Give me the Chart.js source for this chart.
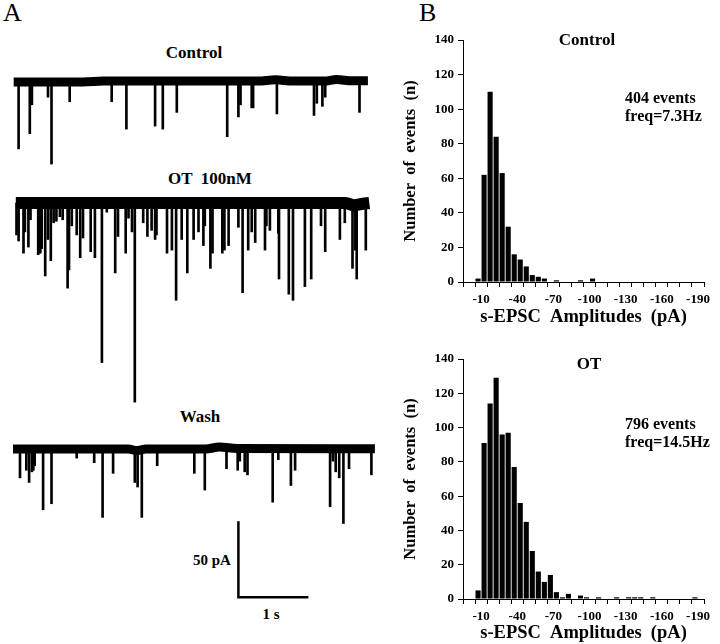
<!DOCTYPE html>
<html>
<head>
<meta charset="utf-8">
<script src="https://cdn.jsdelivr.net/npm/chart.js@4/dist/chart.umd.min.js"></script>
<style>
  html, body { margin: 0; padding: 0; background: #fff; }
  #fig { position: relative; width: 720px; height: 644px; overflow: hidden; background: #fff; }
  canvas { position: absolute; }
  .lbl { position: absolute; transform: translate(-50%, -50%); white-space: pre;
         font: bold 17px 'Liberation Serif', 'Times New Roman', serif; color: #000; }
  .txt { position: absolute; white-space: pre; line-height: 15px;
         font: bold 16px 'Liberation Serif', 'Times New Roman', serif; color: #000; }
  .panel { position: absolute; font: 26px 'Liberation Serif', 'Times New Roman', serif; color: #000; }
</style>
</head>
<body>
<div id="fig">
  <div class="panel" style="left:3px;top:-2px">A</div>
  <div class="panel" style="left:419px;top:-2px">B</div>

  <div class="lbl" style="left:194px;top:53px">Control</div>
  <div class="lbl" style="left:210px;top:179px">OT  100nM</div>
  <div class="lbl" style="left:200px;top:417px">Wash</div>
  <div class="lbl" style="left:212px;top:560px;font-size:15px">50 pA</div>
  <div class="lbl" style="left:271px;top:614px;font-size:15px">1 s</div>

  <canvas id="trControl" width="364" height="100" style="left:13px;top:70px"></canvas>
  <canvas id="trOT" width="364" height="215" style="left:13px;top:190px"></canvas>
  <canvas id="trWash" width="364" height="175" style="left:13px;top:435px"></canvas>

  <canvas id="hControl" width="340" height="330" style="left:380px;top:0px"></canvas>
  <canvas id="hOT" width="340" height="324" style="left:380px;top:320px"></canvas>

  <div class="lbl" style="left:587px;top:40px">Control</div>
  <div class="lbl" style="left:589px;top:364px">OT</div>
  <div class="txt" style="left:625px;top:89px">404 events
freq=7.3Hz</div>
  <div class="txt" style="left:625px;top:415px">796 events
freq=14.5Hz</div>
</div>

<script>
// ---- panel A: s-EPSC traces, events as [time (s), amplitude (pA)] ----
const ctrlEvents = [
  [0.08, 44], [0.24, 34], [0.27, 15], [0.50, 10], [0.55, 54], [0.81, 13], [1.41, 13],
  [1.62, 31], [2.03, 29], [2.14, 31], [2.34, 20], [3.06, 36], [3.22, 23], [3.25, 15],
  [3.41, 17], [3.43, 17], [3.77, 21], [4.30, 22], [4.34, 14], [4.42, 16], [4.46, 10], [4.95, 20]
];
const otEvents = [
  [0.05, 21], [0.08, 25], [0.15, 33], [0.17, 19], [0.22, 29], [0.25, 11], [0.36, 34], [0.39, 33],
  [0.41, 30], [0.46, 48], [0.50, 24], [0.54, 38], [0.58, 13], [0.62, 12], [0.67, 9], [0.71, 11],
  [0.78, 56], [0.80, 44], [0.84, 15], [0.91, 21], [0.96, 36], [1.00, 23], [1.11, 32], [1.17, 36],
  [1.27, 105], [1.34, 6], [1.46, 46], [1.50, 22], [1.61, 33], [1.65, 10], [1.70, 19], [1.74, 131],
  [1.86, 13], [1.92, 22], [1.98, 18], [2.03, 24], [2.05, 21], [2.20, 33], [2.27, 31], [2.33, 64],
  [2.41, 24], [2.49, 46], [2.58, 24], [2.65, 19], [2.72, 28], [2.74, 15], [2.82, 43], [2.85, 33],
  [2.99, 33], [3.02, 31], [3.08, 28], [3.22, 16], [3.28, 59], [3.36, 31], [3.41, 19], [3.46, 26],
  [3.60, 31], [3.62, 15], [3.67, 18], [3.79, 20], [3.80, 50], [3.94, 60], [4.00, 64], [4.17, 55],
  [4.26, 50], [4.40, 15], [4.46, 32], [4.67, 24], [4.74, 13], [4.85, 43], [4.89, 31], [4.91, 50],
  [5.04, 31]
];
const washEvents = [
  [0.10, 19], [0.19, 14], [0.23, 22], [0.27, 15], [0.29, 14], [0.31, 11], [0.43, 40], [0.55, 36],
  [0.91, 6], [1.16, 9], [1.28, 45], [1.43, 16], [1.74, 22], [1.78, 25], [1.84, 45], [2.06, 11],
  [2.59, 16], [2.74, 27], [3.05, 13], [3.21, 14], [3.24, 8], [3.31, 15], [3.35, 17], [3.71, 35],
  [3.79, 7], [3.97, 24], [4.03, 14], [4.53, 38], [4.57, 8], [4.61, 15], [4.66, 19], [4.72, 49],
  [4.80, 13], [5.12, 17]
];
// baseline drift, [time (s), offset (pA)]
const ctrlBase = [[0.01, 0], [1.0, 0], [1.3, 0.6], [3.5, 0.6], [3.75, 1.4], [4.0, 0.6], [4.45, 0.6], [4.62, 1.6], [4.85, 0.8], [5.07, 0.8]];
const otBase = [[0.04, 0], [4.75, 0], [4.87, -1.5], [5.0, -0.5], [5.09, 0]];
const washBase = [[0, 0], [1.65, 0], [1.76, -1], [1.9, 0], [2.75, 0], [2.95, 1.3], [3.2, 0.4], [5.17, 0.2]];
// scale bar: 50 pA by 1 s
const scaleBar = [[3.22, -47.5], [3.22, -97.5], [4.22, -97.5]];

// ---- panel B: amplitude histograms, 5 pA bins ----
const binLabels = ['0','-5','-10','-15','-20','-25','-30','-35','-40','-45','-50','-55','-60','-65','-70','-75','-80','-85','-90','-95',
  '-100','-105','-110','-115','-120','-125','-130','-135','-140','-145','-150','-155','-160','-165','-170','-175','-180','-185','-190','-195'];
const axisLabels = ['0','-10','-20','-30','-40','-50','-60','-70','-80','-90','-100','-110','-120','-130','-140','-150','-160','-170','-180','-190'];
const shownLabels = ['-10','-40','-70','-100','-130','-160','-190'];
const ctrlCounts = [0,0,2,62,110,84,63,32,16,13,9,4,3,2,0,1,0,0,0,1,0,2,0,0,0,0,0,0,0,0,0,0,0,0,0,0,0,0,0,0];
const otCounts = [0,0,5,91,114,129,96,97,77,56,45,28,16,10,14,4,1,3,0,2,1,0,1,0,0,1,0,1,1,1,0,1,0,0,0,0,0,0,1,0];

const SERIF = "'Liberation Serif', 'Times New Roman', serif";
const PX_PER_PA = 1.52;
const T_MAX = 5.2;
Chart.defaults.color = '#000';

function makeTrace(id, events, base, band, baseY, extra) {
  const cv = document.getElementById(id);
  const yMax = baseY / PX_PER_PA;
  const yMin = yMax - cv.height / PX_PER_PA;
  const datasets = [
    { type: 'line', data: base.map(p => ({ x: p[0], y: p[1] })), borderColor: '#000', borderWidth: band,
      pointRadius: 0, borderCapStyle: 'butt', cubicInterpolationMode: 'monotone', order: 2 },
    { data: events.map(e => ({ x: e[0], y: [0, -e[1]] })), backgroundColor: '#000', barThickness: 2, order: 1 }
  ];
  if (extra) datasets.push({ type: 'line', data: extra.map(p => ({ x: p[0], y: p[1] })), borderColor: '#000',
    borderWidth: 2.5, pointRadius: 0, borderJoinStyle: 'miter', borderCapStyle: 'butt', order: 0 });
  return new Chart(cv, {
    type: 'bar',
    data: { datasets },
    options: {
      responsive: false, animation: false, events: [],
      layout: { padding: 0 },
      plugins: { legend: { display: false }, tooltip: { enabled: false } },
      scales: {
        x: { type: 'linear', min: 0, max: T_MAX, offset: false, display: false },
        y: { min: yMin, max: yMax, display: false }
      }
    }
  });
}

function makeHist(id, counts, padTop, xHeight, titlePad) {
  return new Chart(document.getElementById(id), {
    type: 'bar',
    data: { labels: binLabels, datasets: [{ data: counts, backgroundColor: '#000', barPercentage: 0.85, categoryPercentage: 1 }] },
    options: {
      responsive: false, animation: false, events: [],
      layout: { padding: { top: padTop, right: 16, bottom: 0, left: 0 } },
      plugins: { legend: { display: false }, tooltip: { enabled: false } },
      scales: {
        x: { display: false },
        x2: {
          type: 'category', labels: axisLabels, position: 'bottom', offset: true,
          grid: { offset: true, drawOnChartArea: false, tickLength: 5, color: '#000' },
          border: { color: '#000', width: 1 },
          ticks: { autoSkip: false, maxRotation: 0, minRotation: 0, padding: 5,
                   font: { family: SERIF, size: 13, weight: 'bold' },
                   callback: function (v) { const l = this.getLabelForValue(v); return shownLabels.includes(l) ? l : ''; } },
          title: { display: true, text: 's-EPSC  Amplitudes  (pA)', font: { family: SERIF, size: 18.5, weight: 'bold' },
                   padding: { top: 0, bottom: titlePad } },
          afterFit: s => { s.height = xHeight; }
        },
        y: {
          min: 0, max: 140,
          grid: { drawOnChartArea: false, tickLength: 5, color: '#000' },
          border: { color: '#000', width: 1 },
          ticks: { stepSize: 20, padding: 4, font: { family: SERIF, size: 13, weight: 'bold' } },
          title: { display: true, text: 'Number  of  events  (n)', font: { family: SERIF, size: 16.5, weight: 'bold' },
                   padding: { top: 21, bottom: 0 } },
          afterFit: s => { s.width = 83; }
        }
      }
    }
  });
}

makeTrace('trControl', ctrlEvents, ctrlBase, 9, 12);
makeTrace('trOT', otEvents, otBase, 12, 13);
makeTrace('trWash', washEvents, washBase, 9, 14, scaleBar);
makeHist('hControl', ctrlCounts, 40, 48, 2);
makeHist('hOT', otCounts, 39, 45, 0);
</script>
</body>
</html>
